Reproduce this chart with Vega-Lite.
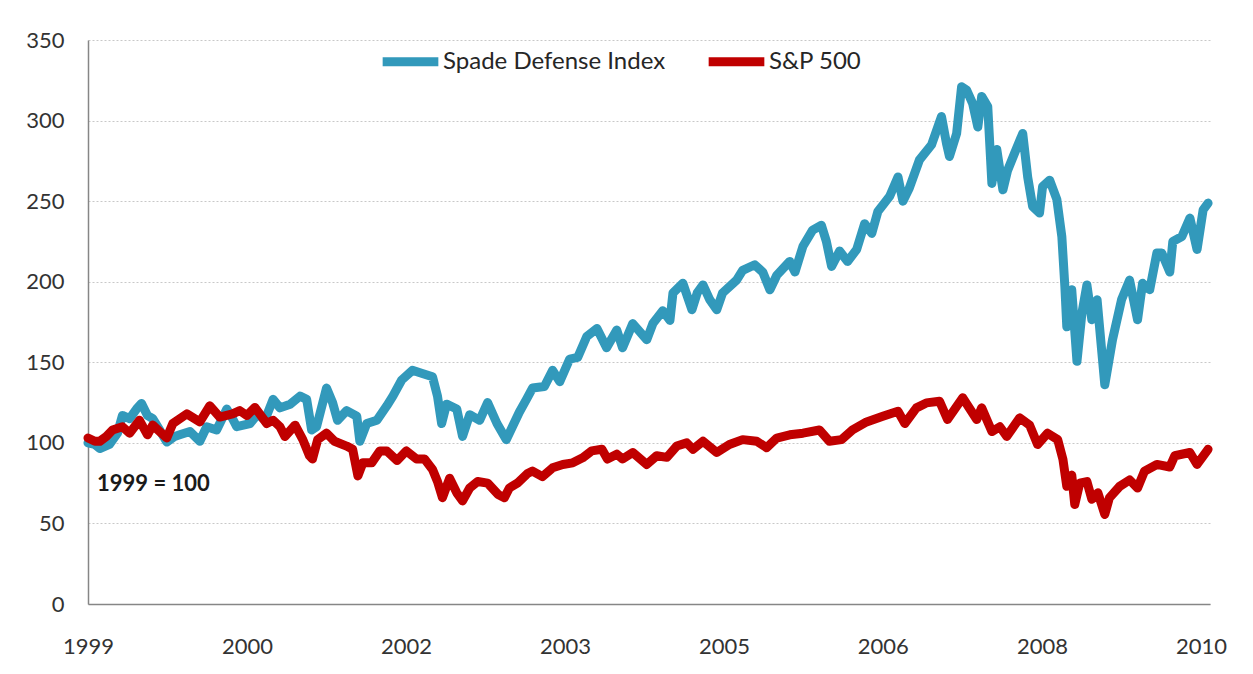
{
"$schema": "https://vega.github.io/schema/vega-lite/v6.json",
"width": 1122, "height": 564,
"autosize": "none",
"padding": {"left": 88, "top": 40, "right": 43, "bottom": 70},
"background": "white",
"config": {"view": {"stroke": null}, "font": "Lato"},
"datasets": {
"spade": [
{"date":"1999-01-01","value":100},{"date":"1999-01-26","value":99},{"date":"1999-02-13","value":96.5},{"date":"1999-03-20","value":99},{"date":"1999-04-18","value":106},{"date":"1999-05-06","value":117},{"date":"1999-06-01","value":115},{"date":"1999-06-26","value":121},{"date":"1999-07-14","value":124.5},{"date":"1999-08-05","value":117},{"date":"1999-08-24","value":115},{"date":"1999-09-18","value":108},{"date":"1999-10-14","value":100.5},{"date":"1999-11-12","value":104},{"date":"1999-11-30","value":105},
{"date":"2000-01-06","value":107},{"date":"2000-02-11","value":101},{"date":"2000-03-07","value":110},{"date":"2000-04-12","value":108},{"date":"2000-05-19","value":121},{"date":"2000-06-09","value":115},{"date":"2000-06-24","value":110},{"date":"2000-08-11","value":112},{"date":"2000-09-09","value":118},{"date":"2000-10-04","value":114},{"date":"2000-11-03","value":127},{"date":"2000-11-28","value":121.7},
{"date":"2001-01-04","value":124},{"date":"2001-02-09","value":129},{"date":"2001-03-05","value":127},{"date":"2001-03-23","value":108},{"date":"2001-04-10","value":110},{"date":"2001-05-16","value":134},{"date":"2001-06-07","value":125},{"date":"2001-06-25","value":114},{"date":"2001-07-28","value":120},{"date":"2001-09-03","value":116.5},{"date":"2001-09-14","value":101},{"date":"2001-10-09","value":112},{"date":"2001-11-15","value":114},{"date":"2001-12-21","value":123},
{"date":"2002-01-12","value":129},{"date":"2002-02-13","value":139},{"date":"2002-03-24","value":145},{"date":"2002-04-29","value":143},{"date":"2002-06-05","value":141},{"date":"2002-06-23","value":129},{"date":"2002-07-08","value":112},{"date":"2002-07-26","value":124},{"date":"2002-09-01","value":121},{"date":"2002-09-22","value":104},{"date":"2002-10-18","value":117.5},{"date":"2002-11-23","value":114},{"date":"2002-12-22","value":125},
{"date":"2003-01-25","value":112},{"date":"2003-02-28","value":102},{"date":"2003-03-22","value":110},{"date":"2003-04-16","value":119},{"date":"2003-05-12","value":127},{"date":"2003-06-03","value":134},{"date":"2003-07-16","value":135},{"date":"2003-08-15","value":145},{"date":"2003-09-10","value":138},{"date":"2003-10-16","value":152},{"date":"2003-11-14","value":153},{"date":"2003-12-17","value":166},
{"date":"2004-01-23","value":171},{"date":"2004-02-27","value":159},{"date":"2004-04-04","value":170},{"date":"2004-04-25","value":159},{"date":"2004-06-01","value":174},{"date":"2004-07-22","value":164},{"date":"2004-08-13","value":174},{"date":"2004-09-18","value":182},{"date":"2004-10-14","value":176},{"date":"2004-10-25","value":193},{"date":"2004-11-30","value":199},
{"date":"2005-01-02","value":182.6},{"date":"2005-01-21","value":193},{"date":"2005-02-11","value":198},{"date":"2005-03-07","value":189},{"date":"2005-04-02","value":182.6},{"date":"2005-04-23","value":193},{"date":"2005-06-13","value":201},{"date":"2005-07-05","value":207},{"date":"2005-08-18","value":210.5},{"date":"2005-09-16","value":206},{"date":"2005-10-12","value":195},{"date":"2005-11-06","value":204},{"date":"2005-12-23","value":212.6},
{"date":"2006-01-11","value":206},{"date":"2006-02-09","value":222},{"date":"2006-03-16","value":232},{"date":"2006-04-17","value":235},{"date":"2006-05-05","value":225},{"date":"2006-05-24","value":209.5},{"date":"2006-06-22","value":219},{"date":"2006-07-21","value":212.6},{"date":"2006-08-23","value":220},{"date":"2006-09-21","value":236},{"date":"2006-10-17","value":230},{"date":"2006-11-08","value":243.6},{"date":"2006-12-21","value":253},
{"date":"2007-01-20","value":265},{"date":"2007-02-07","value":250},{"date":"2007-03-02","value":258},{"date":"2007-04-08","value":275.6},{"date":"2007-05-22","value":285},{"date":"2007-06-27","value":302.5},{"date":"2007-07-15","value":286},{"date":"2007-07-26","value":277.7},{"date":"2007-08-21","value":292},{"date":"2007-09-08","value":321},{"date":"2007-09-26","value":319},{"date":"2007-10-18","value":310.7},{"date":"2007-11-06","value":296},{"date":"2007-11-20","value":315},{"date":"2007-12-12","value":308.7},{"date":"2007-12-27","value":261},
{"date":"2008-01-14","value":282},{"date":"2008-02-05","value":257},{"date":"2008-02-22","value":269},{"date":"2008-03-19","value":280},{"date":"2008-04-17","value":292},{"date":"2008-05-05","value":265},{"date":"2008-05-23","value":246.7},{"date":"2008-06-17","value":242.6},{"date":"2008-06-28","value":259},{"date":"2008-07-24","value":263},{"date":"2008-08-19","value":251},{"date":"2008-09-06","value":228},{"date":"2008-09-17","value":197},{"date":"2008-09-24","value":172},{"date":"2008-10-12","value":195},{"date":"2008-10-31","value":150.6},{"date":"2008-11-18","value":180.6},{"date":"2008-12-06","value":198},{"date":"2008-12-24","value":176.4},
{"date":"2009-01-12","value":188.8},{"date":"2009-02-09","value":136},{"date":"2009-03-09","value":164},{"date":"2009-04-11","value":189},{"date":"2009-05-10","value":201},{"date":"2009-06-08","value":176.4},{"date":"2009-06-26","value":199},{"date":"2009-07-22","value":195},{"date":"2009-08-17","value":217.8},{"date":"2009-09-04","value":217.8},{"date":"2009-10-03","value":206},{"date":"2009-10-14","value":225},{"date":"2009-11-16","value":228},{"date":"2009-12-15","value":239.5},
{"date":"2010-01-10","value":220},{"date":"2010-02-01","value":244.6},{"date":"2010-02-19","value":248.8}
],
"sp": [
{"date":"1999-01-01","value":103},{"date":"1999-01-26","value":101},{"date":"1999-02-13","value":101},{"date":"1999-03-09","value":104},{"date":"1999-03-31","value":108},{"date":"1999-05-06","value":110},{"date":"1999-06-01","value":106},{"date":"1999-07-07","value":114},{"date":"1999-08-05","value":105},{"date":"1999-08-24","value":111},{"date":"1999-09-18","value":107},{"date":"1999-10-14","value":103},{"date":"1999-11-05","value":112},{"date":"1999-12-26","value":118},
{"date":"2000-02-11","value":113},{"date":"2000-03-18","value":123},{"date":"2000-04-23","value":116},{"date":"2000-06-09","value":118},{"date":"2000-07-05","value":120},{"date":"2000-07-31","value":117},{"date":"2000-08-29","value":122},{"date":"2000-10-11","value":112},{"date":"2000-11-03","value":114},{"date":"2000-11-28","value":110},{"date":"2000-12-16","value":104},
{"date":"2001-01-22","value":111},{"date":"2001-02-19","value":102},{"date":"2001-03-15","value":92},{"date":"2001-03-26","value":90},{"date":"2001-04-14","value":102},{"date":"2001-05-16","value":106},{"date":"2001-06-14","value":101},{"date":"2001-07-28","value":98},{"date":"2001-08-19","value":96},{"date":"2001-09-07","value":79.5},{"date":"2001-09-25","value":87.6},{"date":"2001-10-27","value":87.6},{"date":"2001-11-26","value":95},{"date":"2001-12-21","value":95},
{"date":"2002-01-27","value":89},{"date":"2002-03-02","value":95},{"date":"2002-04-08","value":90},{"date":"2002-05-07","value":90},{"date":"2002-06-05","value":83.5},{"date":"2002-06-23","value":76},{"date":"2002-07-11","value":66},{"date":"2002-08-06","value":78},{"date":"2002-09-01","value":69},{"date":"2002-09-22","value":64},{"date":"2002-10-18","value":72},{"date":"2002-11-16","value":76},{"date":"2002-12-22","value":75},
{"date":"2003-01-29","value":68},{"date":"2003-02-21","value":66},{"date":"2003-03-11","value":72},{"date":"2003-04-09","value":75},{"date":"2003-05-16","value":81},{"date":"2003-06-03","value":82.5},{"date":"2003-07-09","value":79},{"date":"2003-08-15","value":84.5},{"date":"2003-09-21","value":86.6},{"date":"2003-10-27","value":87.6},{"date":"2003-12-02","value":90.7},
{"date":"2004-01-04","value":95},{"date":"2004-02-10","value":96},{"date":"2004-03-01","value":90},{"date":"2004-04-04","value":93},{"date":"2004-04-25","value":90},{"date":"2004-06-01","value":94},{"date":"2004-07-22","value":86.6},{"date":"2004-08-27","value":92},{"date":"2004-10-03","value":91},{"date":"2004-11-08","value":98},{"date":"2004-12-14","value":100},
{"date":"2005-01-06","value":96},{"date":"2005-02-11","value":101},{"date":"2005-04-02","value":94},{"date":"2005-05-18","value":99},{"date":"2005-07-05","value":102},{"date":"2005-08-25","value":101},{"date":"2005-09-30","value":97},{"date":"2005-11-06","value":103},{"date":"2005-12-23","value":105},
{"date":"2006-02-09","value":106},{"date":"2006-04-10","value":108},{"date":"2006-05-16","value":101},{"date":"2006-06-29","value":102},{"date":"2006-08-08","value":108},{"date":"2006-09-28","value":113},{"date":"2006-11-26","value":116.5},
{"date":"2007-01-20","value":119.6},{"date":"2007-02-14","value":112},{"date":"2007-03-28","value":121.7},{"date":"2007-05-03","value":124.8},{"date":"2007-06-20","value":125.8},{"date":"2007-07-19","value":114.5},{"date":"2007-09-12","value":128},{"date":"2007-11-02","value":114.5},{"date":"2007-11-20","value":121.7},{"date":"2007-12-27","value":107},
{"date":"2008-01-25","value":110},{"date":"2008-02-19","value":104},{"date":"2008-04-06","value":115.5},{"date":"2008-05-12","value":111},{"date":"2008-06-10","value":99},{"date":"2008-07-16","value":106},{"date":"2008-08-22","value":102},{"date":"2008-09-10","value":89.7},{"date":"2008-09-24","value":73},{"date":"2008-10-12","value":80},{"date":"2008-10-23","value":61.8},{"date":"2008-11-10","value":75},{"date":"2008-12-06","value":76},{"date":"2008-12-24","value":65},
{"date":"2009-01-15","value":69},{"date":"2009-02-09","value":55.6},{"date":"2009-02-26","value":66},{"date":"2009-04-04","value":73},{"date":"2009-05-10","value":77},{"date":"2009-06-08","value":72},{"date":"2009-07-03","value":82.4},{"date":"2009-08-17","value":86.6},{"date":"2009-10-03","value":85},{"date":"2009-10-21","value":92},{"date":"2009-12-15","value":94},
{"date":"2010-01-10","value":86.6},{"date":"2010-02-19","value":96}
],
"note": [{"date":"1999-02-03","value":74.5,"label":"1999 = 100"}]
},
"encoding": {
  "x": {"field": "date", "type": "temporal",
    "scale": {"type": "utc", "domain": [{"year":1999,"month":1,"date":1,"utc":true},{"year":2010,"month":2,"date":26,"utc":true}]},
    "axis": {"title": null, "grid": false, "ticks": false, "labelExpr": "utcFormat(datum.value, '%Y')",
      "values": [{"year":1999,"month":1,"date":1,"utc":true},{"year":2000,"month":7,"date":31,"utc":true},{"year":2002,"month":3,"date":1,"utc":true},{"year":2003,"month":9,"date":29,"utc":true},{"year":2005,"month":4,"date":28,"utc":true},{"year":2006,"month":11,"date":26,"utc":true},{"year":2008,"month":6,"date":26,"utc":true},{"year":2010,"month":1,"date":24,"utc":true}],
      "domainColor": "#868686", "domainWidth": 1.5, "labelFontSize": 22, "labelColor": "#333333", "labelPadding": 32, "labelFlush": false, "labelOverlap": false}},
  "y": {"field": "value", "type": "quantitative",
    "scale": {"domain": [0, 350], "nice": false},
    "axis": {"title": null, "values": [0,50,100,150,200,250,300,350], "ticks": false, "grid": true, "gridDash": [2,2], "gridColor": "#C8C8C8",
      "domainColor": "#868686", "domainWidth": 1.5, "labelFontSize": 22, "labelColor": "#333333", "labelPadding": 24}}
},
"layer": [
  {"data": {"name": "spade"},
   "transform": [{"calculate": "'Spade Defense Index'", "as": "series"}],
   "mark": {"type": "line", "strokeWidth": 9, "strokeCap": "round", "strokeJoin": "round"},
   "encoding": {"color": {"field": "series", "type": "nominal",
     "scale": {"domain": ["Spade Defense Index", "S&P 500"], "range": ["#3299BB", "#C00000"]},
     "legend": {"title": null, "orient": "none", "legendX": 290, "legendY": -11, "direction": "horizontal",
       "symbolType": "stroke", "symbolSize": 3100, "symbolStrokeWidth": 9, "labelFontSize": 24, "labelColor": "#262626",
       "labelOffset": 0, "labelLimit": 400, "columnPadding": 24, "padding": 0}}}},
  {"data": {"name": "sp"},
   "transform": [{"calculate": "'S&P 500'", "as": "series"}],
   "mark": {"type": "line", "strokeWidth": 9, "strokeCap": "round", "strokeJoin": "round"},
   "encoding": {"color": {"field": "series", "type": "nominal"}}},
  {"data": {"name": "note"},
   "mark": {"type": "text", "align": "left", "baseline": "middle", "fontWeight": "bold", "fontSize": 22, "color": "#1a1a1a"},
   "encoding": {"text": {"field": "label"}}}
]
}
